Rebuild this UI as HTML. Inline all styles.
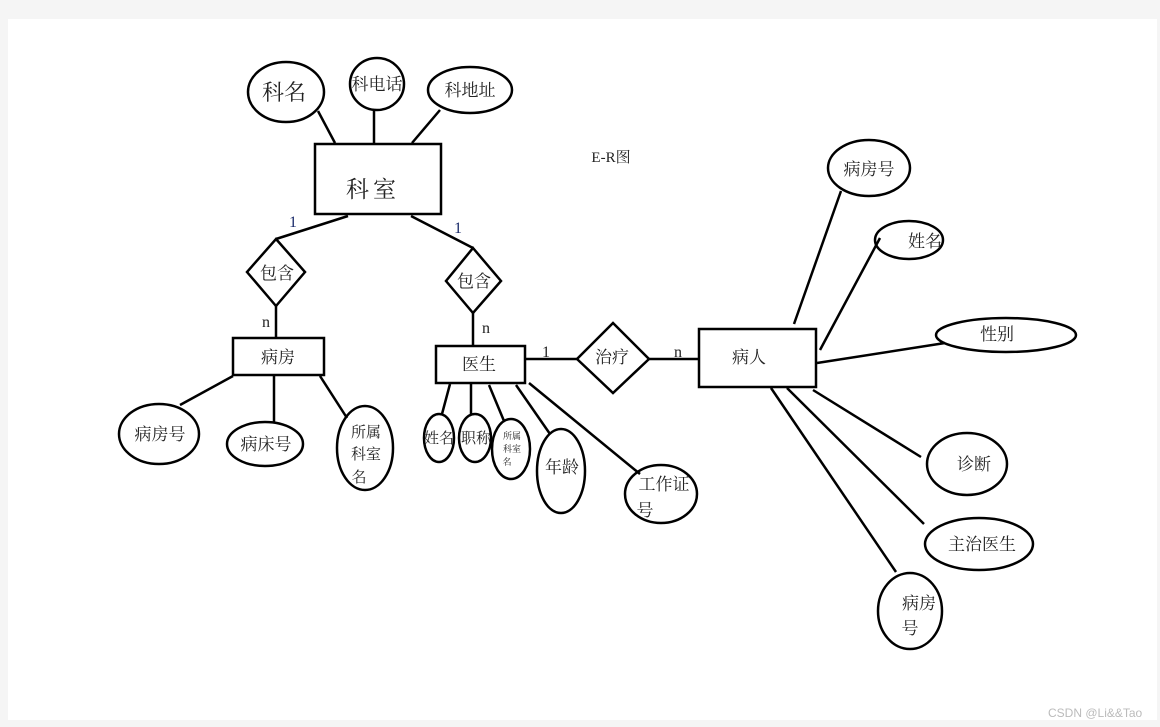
<!DOCTYPE html>
<html><head><meta charset="utf-8"><style>
html,body{margin:0;padding:0;width:1160px;height:727px;overflow:hidden;background:#f5f5f5;}
svg{display:block}
text{font-family:"Liberation Serif","Noto Serif CJK SC","Noto Sans CJK SC",serif;fill:#222;}
</style></head><body>
<svg width="1160" height="727" viewBox="0 0 1160 727" xmlns="http://www.w3.org/2000/svg">
<rect x="8" y="19" width="1149" height="701" fill="#fff"/>
<g stroke="#000" stroke-width="2.5" fill="none">
<ellipse cx="286" cy="92" rx="38" ry="30"/>
<ellipse cx="377" cy="84" rx="27" ry="26"/>
<ellipse cx="470" cy="90" rx="42" ry="23"/>
<rect x="315" y="144" width="126" height="70"/>
<line x1="335" y1="143" x2="318" y2="111"/>
<line x1="374" y1="143" x2="374" y2="109"/>
<line x1="412" y1="143" x2="440" y2="110"/>
<line x1="348" y1="216" x2="276" y2="239"/>
<polygon points="276,239 305,272 276,306 247,272"/>
<line x1="411" y1="216" x2="473" y2="248"/>
<polygon points="473,248 501,281 473,313 446,281"/>
<line x1="276" y1="306" x2="276" y2="338"/>
<line x1="473" y1="313" x2="473" y2="346"/>
<rect x="233" y="338" width="91" height="37"/>
<ellipse cx="159" cy="434" rx="40" ry="30"/>
<line x1="233" y1="376" x2="180" y2="405"/>
<ellipse cx="265" cy="444" rx="38" ry="22"/>
<line x1="274" y1="376" x2="274" y2="422"/>
<ellipse cx="365" cy="448" rx="28" ry="42"/>
<line x1="320" y1="376" x2="347" y2="418"/>
<rect x="436" y="346" width="89" height="37"/>
<ellipse cx="439" cy="438" rx="15" ry="24"/>
<line x1="450" y1="384" x2="442" y2="414"/>
<ellipse cx="475" cy="438" rx="16" ry="24"/>
<line x1="471" y1="384" x2="471" y2="415"/>
<ellipse cx="511" cy="449" rx="19" ry="30"/>
<line x1="489" y1="385" x2="504" y2="421"/>
<ellipse cx="561" cy="471" rx="24" ry="42"/>
<line x1="516" y1="385" x2="550" y2="434"/>
<ellipse cx="661" cy="494" rx="36" ry="29"/>
<line x1="529" y1="383" x2="640" y2="474"/>
<line x1="525" y1="359" x2="577" y2="359"/>
<polygon points="613,323 649,359 613,393 577,359"/>
<line x1="649" y1="359" x2="699" y2="359"/>
<rect x="699" y="329" width="117" height="58"/>
<ellipse cx="869" cy="168" rx="41" ry="28"/>
<line x1="794" y1="324" x2="841" y2="191"/>
<ellipse cx="909" cy="240" rx="34" ry="19"/>
<line x1="820" y1="350" x2="880" y2="238"/>
<ellipse cx="1006" cy="335" rx="70" ry="17"/>
<line x1="817" y1="363" x2="945" y2="343"/>
<ellipse cx="967" cy="464" rx="40" ry="31"/>
<line x1="813" y1="390" x2="921" y2="457"/>
<ellipse cx="979" cy="544" rx="54" ry="26"/>
<line x1="787" y1="388" x2="924" y2="524"/>
<ellipse cx="910" cy="611" rx="32" ry="38"/>
<line x1="771" y1="388" x2="896" y2="572"/>
</g>
<g font-size="22" text-anchor="middle">
<text x="284" y="100">科名</text>
<text x="373" y="197" font-size="23" letter-spacing="4">科室</text>
</g>
<g font-size="17" text-anchor="middle">
<text x="377" y="90">科电话</text>
<text x="470" y="96">科地址</text>
<text x="277" y="279">包含</text>
<text x="474" y="287">包含</text>
<text x="278" y="363">病房</text>
<text x="479" y="370">医生</text>
<text x="612" y="363">治疗</text>
<text x="749" y="363">病人</text>
<text x="160" y="440">病房号</text>
<text x="266" y="450">病床号</text>
<text x="366" y="437" font-size="15">所属</text>
<text x="366" y="459" font-size="15">科室</text>
<text x="359" y="482" font-size="15">名</text>
<text x="439" y="443" font-size="15">姓名</text>
<text x="476" y="443" font-size="15">职称</text>
<text x="512" y="439" font-size="9">所属</text>
<text x="512" y="452" font-size="9">科室</text>
<text x="507" y="465" font-size="9">名</text>
<text x="562" y="473">年龄</text>
<text x="664" y="490">工作证</text>
<text x="645" y="516">号</text>
<text x="869" y="175">病房号</text>
<text x="925" y="247">姓名</text>
<text x="997" y="340">性别</text>
<text x="974" y="470">诊断</text>
<text x="982" y="550">主治医生</text>
<text x="919" y="609">病房</text>
<text x="910" y="634">号</text>
<text x="611" y="162" font-size="15">E-R图</text>
</g>
<g font-size="16">
<text x="289" y="227" style="fill:#1a2a6a">1</text>
<text x="454" y="233" style="fill:#1a2a6a">1</text>
<text x="262" y="327">n</text>
<text x="482" y="333">n</text>
<text x="542" y="357">1</text>
<text x="674" y="357">n</text>
</g>
<text x="1048" y="717" font-size="12" style="fill:#bbb;font-family:'Liberation Sans',sans-serif">CSDN @Li&amp;&amp;Tao</text>
</svg>
</body></html>
